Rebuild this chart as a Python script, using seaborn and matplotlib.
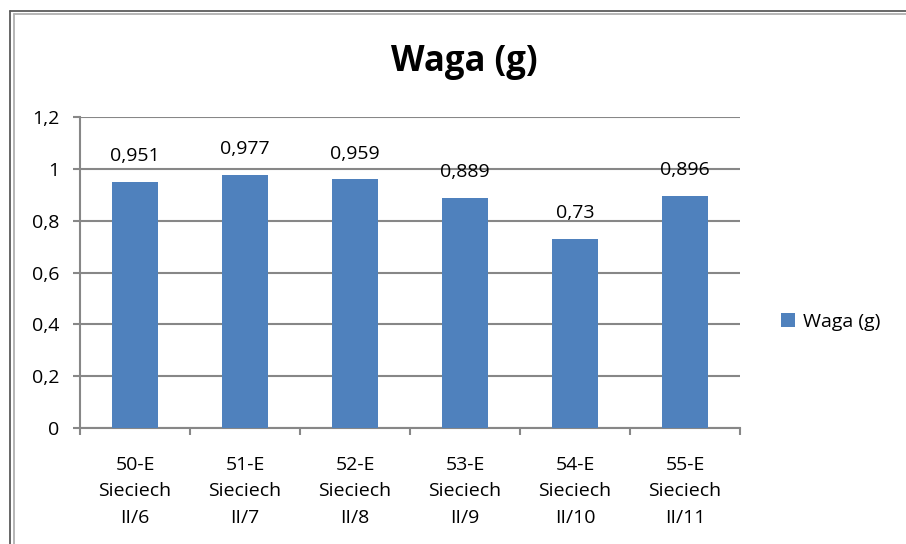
import matplotlib
matplotlib.use("Agg")
import matplotlib.pyplot as plt
import matplotlib.ticker as mticker
from matplotlib.lines import Line2D
from matplotlib.patches import Patch
import pandas as pd
import seaborn as sb

# dane z wykresu
kategorie = ['50-E\nSieciech\nII/6', '51-E\nSieciech\nII/7', '52-E\nSieciech\nII/8',
             '53-E\nSieciech\nII/9', '54-E\nSieciech\nII/10', '55-E\nSieciech\nII/11']
waga = [0.951, 0.977, 0.959, 0.889, 0.73, 0.896]
etykiety = ['0,951', '0,977', '0,959', '0,889', '0,73', '0,896']
y_ticks = [0, 0.2, 0.4, 0.6, 0.8, 1.0, 1.2]

kolor = '#4F81BD'
siatka = '#878787'

sb.set_style('white')
plt.rcParams['font.family'] = ['Open Sans', 'DejaVu Sans']
plt.rcParams['text.color'] = 'black'

df = pd.DataFrame({'Kategoria': kategorie, 'Waga': waga})

fig = plt.figure(figsize=(9.06, 5.44), dpi=100)
ax = fig.add_axes([0.0883, 0.2132, 0.7285, 0.5717])

sb.barplot(x='Kategoria', y='Waga', data=df, color=kolor, width=0.41,
           saturation=1, linewidth=0, ax=ax, zorder=3)

ax.set_ylim(0, 1.2)
ax.set_xlim(-0.5, len(kategorie) - 0.5)
ax.set_yticks(y_ticks)
ax.yaxis.set_major_formatter(mticker.FuncFormatter(
    lambda v, p: ('%g' % round(v, 1)).replace('.', ',')))
ax.grid(axis='y', color=siatka, linewidth=1.5, zorder=0)
ax.set_axisbelow(True)

for s in ['top', 'right']:
    ax.spines[s].set_visible(False)
for s in ['left', 'bottom']:
    ax.spines[s].set_color(siatka)
    ax.spines[s].set_linewidth(1.5)

ax.tick_params(axis='y', which='major', length=5, width=1.5, color=siatka,
               direction='out', left=True, labelsize=14, pad=10, labelcolor='black')
# etykiety osi x bez znaczników, znaczniki na granicach kategorii
ax.tick_params(axis='x', which='major', length=0, labelsize=14, pad=20,
               labelcolor='black')
ax.set_xticks([i - 0.5 for i in range(len(kategorie) + 1)], minor=True)
ax.tick_params(axis='x', which='minor', length=5, width=1.5, color=siatka,
               direction='out', bottom=True)
for t in ax.get_xticklabels():
    t.set_linespacing(1.62)
    t.set_horizontalalignment('center')

ax.set_xlabel('')
ax.set_ylabel('')

for i, (v, lab) in enumerate(zip(waga, etykiety)):
    ax.annotate(lab, (i, v), xytext=(0, 12), textcoords='offset points',
                ha='center', va='bottom', fontsize=14, zorder=4)

fig.text(0.513, 0.886, 'Waga (g)', ha='center', va='center',
         fontsize=25, fontweight='bold')

fig.legend(handles=[Patch(facecolor=kolor, edgecolor='none', label='Waga (g)')],
           loc='center left', bbox_to_anchor=(0.843, 0.408), frameon=False,
           fontsize=14, handlelength=0.7, handleheight=0.7, handletextpad=0.4)

# ramka wykresu (widoczna góra i lewa krawędź)
for off, c in [(0.0, '#5a5a5a'), (0.004, '#b0b0b0')]:
    fig.add_artist(Line2D([0.011 + off, 1.0], [0.98 - off * 1.6, 0.98 - off * 1.6],
                          color=c, linewidth=1.3))
    fig.add_artist(Line2D([0.011 + off, 0.011 + off], [0.0, 0.98 - off * 1.6],
                          color=c, linewidth=1.3))

fig.savefig('out.png', dpi=100)
